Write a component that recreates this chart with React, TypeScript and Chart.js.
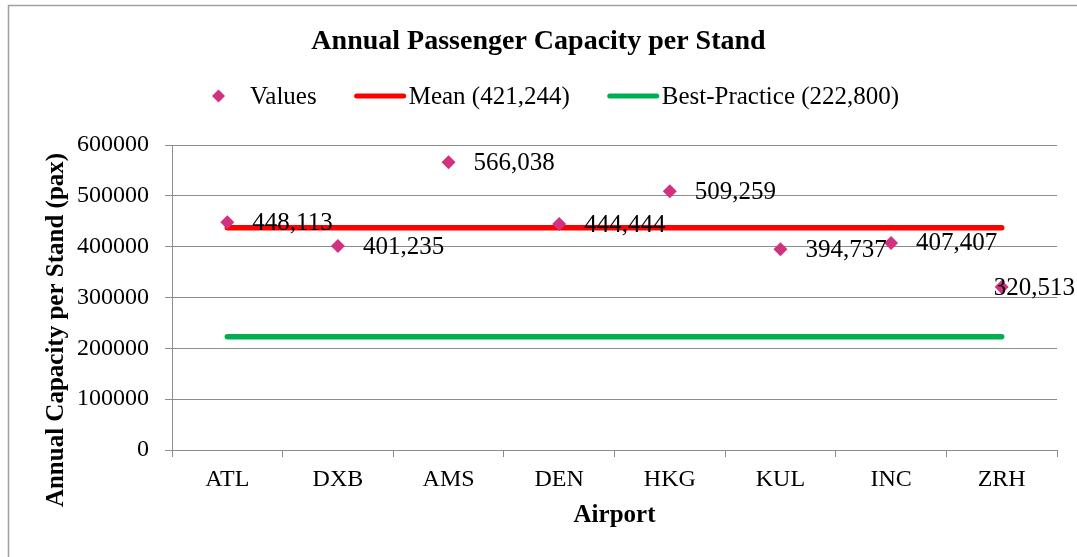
import React, { useEffect, useRef } from "react";
import { Chart, registerables } from "chart.js";

Chart.register(...registerables);

const airports = ["ATL", "DXB", "AMS", "DEN", "HKG", "KUL", "INC", "ZRH"];
const capacityValues = [448113, 401235, 566038, 444444, 509259, 394737, 407407, 320513];
const meanLineValue = 437000; // where the mean line is drawn in the picture
const bestPracticeValue = 222800;
const legendLabels = ["Values", "Mean (421,244)", "Best-Practice (222,800)"];
const titleText = "Annual Passenger Capacity per Stand";
const yTitleText = "Annual Capacity per Stand (pax)";
const xTitleText = "Airport";

const SERIF = "'Liberation Serif', 'Times New Roman', serif";
const GRID = "#8c8c8c";
const MARKER = "#D2317F";
const RED = "#FF0000";
const GREEN = "#00B050";

function fmt(n: number) {
  return n.toLocaleString("en-US");
}

const overlayPlugin = {
  id: "overlay",
  beforeDraw(chart: any) {
    const ctx = chart.ctx;
    ctx.save();
    ctx.fillStyle = "#ffffff";
    ctx.fillRect(0, 0, chart.width, chart.height);
    ctx.strokeStyle = "#a0a0a0";
    ctx.lineWidth = 1.5;
    ctx.strokeRect(8.5, 5.5, chart.width + 20, chart.height + 20);
    ctx.restore();
  },
  afterDatasetsDraw(chart: any) {
    const ctx = chart.ctx;
    const meta = chart.getDatasetMeta(0);
    ctx.save();
    ctx.font = `25px ${SERIF}`;
    ctx.fillStyle = "#000";
    ctx.textBaseline = "middle";
    ctx.textAlign = "left";
    meta.data.forEach((pt: any, i: number) => {
      const txt = fmt(capacityValues[i]);
      const w = ctx.measureText(txt).width;
      const x = Math.min(pt.x + 25, chart.width - 2 - w);
      ctx.fillText(txt, x, pt.y + 1);
    });
    ctx.restore();
  },
  afterDraw(chart: any) {
    const ctx = chart.ctx;
    const area = chart.chartArea;
    ctx.save();
    // Title
    ctx.fillStyle = "#000";
    ctx.font = `bold 28px ${SERIF}`;
    ctx.textAlign = "center";
    ctx.textBaseline = "middle";
    ctx.fillText(titleText, chart.width / 2, 42);

    // Legend
    ctx.font = `25px ${SERIF}`;
    ctx.textAlign = "left";
    const w0 = ctx.measureText(legendLabels[0]).width;
    const w1 = ctx.measureText(legendLabels[1]).width;
    let x = 212;
    const ly = 96;
    // diamond
    ctx.fillStyle = MARKER;
    ctx.beginPath();
    ctx.moveTo(x + 6.5, ly - 6.5);
    ctx.lineTo(x + 13, ly);
    ctx.lineTo(x + 6.5, ly + 6.5);
    ctx.lineTo(x, ly);
    ctx.closePath();
    ctx.fill();
    x += 13 + 25;
    ctx.fillStyle = "#000";
    ctx.fillText(legendLabels[0], x, ly + 1);
    x += w0 + 38;
    ctx.lineCap = "round";
    ctx.lineWidth = 5;
    ctx.strokeStyle = RED;
    ctx.beginPath();
    ctx.moveTo(x + 2, ly);
    ctx.lineTo(x + 49, ly);
    ctx.stroke();
    x += 51 + 3;
    ctx.fillText(legendLabels[1], x, ly + 1);
    x += w1 + 38;
    ctx.strokeStyle = GREEN;
    ctx.beginPath();
    ctx.moveTo(x + 2, ly);
    ctx.lineTo(x + 49, ly);
    ctx.stroke();
    x += 51 + 3;
    ctx.fillText(legendLabels[2], x, ly + 1);

    // Axis titles
    ctx.font = `bold 25px ${SERIF}`;
    ctx.textAlign = "center";
    ctx.fillText(xTitleText, (area.left + area.right) / 2, 516);
    ctx.translate(57, 330);
    ctx.rotate(-Math.PI / 2);
    ctx.fillText(yTitleText, 0, 0);
    ctx.restore();
  },
};

export default function App() {
  const ref = useRef<HTMLCanvasElement | null>(null);
  useEffect(() => {
    if (!ref.current) return;
    const chart = new Chart(ref.current, {
      type: "line",
      data: {
        labels: airports,
        datasets: [
          {
            label: legendLabels[0],
            data: capacityValues,
            showLine: false,
            pointStyle: "rectRot",
            pointRadius: 7,
            pointBackgroundColor: MARKER,
            pointBorderColor: MARKER,
            pointBorderWidth: 0,
            borderColor: MARKER,
            backgroundColor: MARKER,
            order: 0,
          },
          {
            label: legendLabels[1],
            data: airports.map(() => meanLineValue),
            borderColor: RED,
            borderWidth: 5.5,
            borderCapStyle: "round",
            pointRadius: 0,
            fill: false,
            order: 1,
          },
          {
            label: legendLabels[2],
            data: airports.map(() => bestPracticeValue),
            borderColor: GREEN,
            borderWidth: 5.5,
            borderCapStyle: "round",
            pointRadius: 0,
            fill: false,
            order: 2,
          },
        ],
      },
      options: {
        responsive: false,
        animation: false,
        devicePixelRatio: 1,
        layout: { padding: { top: 145, right: 20, left: 0, bottom: 0 } },
        plugins: {
          legend: { display: false },
          title: { display: false },
          tooltip: { enabled: false },
        },
        scales: {
          x: {
            type: "category",
            offset: true,
            grid: {
              display: true,
              drawOnChartArea: false,
              drawTicks: true,
              tickLength: 7,
              color: GRID,
              offset: true,
            },
            border: { color: GRID, width: 1 },
            ticks: { font: { family: SERIF, size: 24 }, color: "#000", padding: 8, maxRotation: 0 },
            afterFit(s: any) {
              s.height = 107;
            },
          },
          y: {
            min: 0,
            max: 600000,
            grid: { color: GRID, tickLength: 7, lineWidth: 1 },
            border: { color: GRID, width: 1 },
            ticks: {
              stepSize: 100000,
              font: { family: SERIF, size: 24 },
              color: "#000",
              padding: 16,
              callback: (v: any) => String(v),
            },
            afterFit(s: any) {
              s.width = 172;
            },
          },
        },
      },
      plugins: [overlayPlugin],
    } as any);
    return () => chart.destroy();
  }, []);
  return (
    <div style={{ position: "absolute", left: 0, top: 0, width: 1077, height: 557, overflow: "hidden" }}>
      <canvas ref={ref} width={1077} height={557} style={{ display: "block" }} />
    </div>
  );
}
